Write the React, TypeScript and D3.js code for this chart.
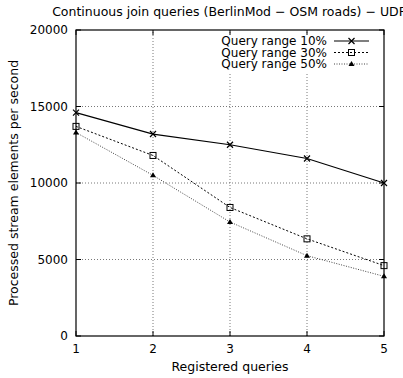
import React from "react";
import * as d3 from "d3";

const queries = [1, 2, 3, 4, 5];
const range10 = [14600, 13200, 12500, 11600, 10000];
const range30 = [13700, 11800, 8400, 6350, 4600];
const range50 = [13300, 10500, 7450, 5250, 3900];
const yTicks = [0, 5000, 10000, 15000, 20000];
const seriesNames = ["Query range 10%", "Query range 30%", "Query range 50%"];

const W = 403, H = 378;
const L = 76, R = 384, T = 30, B = 336;

export default function App() {
  const x = d3.scaleLinear().domain([1, 5]).range([L, R]);
  const y = d3.scaleLinear().domain([0, 20000]).range([B, T]);
  const line = d3.line<number>().x((_, i) => x(queries[i])).y(d => y(d));
  const font = "DejaVu Sans, Verdana, sans-serif";

  const series = [
    { data: range10, dash: undefined as string | undefined, stroke: "#000", sw: 1.2, marker: "x" },
    { data: range30, dash: "2,2", stroke: "#000", sw: 1, marker: "sq" },
    { data: range50, dash: "1,1.5", stroke: "#444", sw: 1, marker: "tri" },
  ];

  const marker = (m: string, cx: number, cy: number, key: any) => {
    if (m === "x") {
      const s = 3;
      return (
        <path key={key} d={`M${cx - s},${cy - s}L${cx + s},${cy + s}M${cx - s},${cy + s}L${cx + s},${cy - s}`} stroke="#000" strokeWidth={1.2} fill="none" />
      );
    }
    if (m === "sq") {
      return <rect key={key} x={cx - 3} y={cy - 3} width={6} height={6} fill="none" stroke="#000" strokeWidth={1} />;
    }
    return <path key={key} d={`M${cx},${cy - 3}L${cx + 3},${cy + 2}L${cx - 3},${cy + 2}Z`} fill="#000" />;
  };

  const legX1 = 334, legX2 = 369, legTextX = 327;
  const legY = [41, 52.5, 64];

  return (
    <svg width={W} height={H} style={{ position: "absolute", left: 0, top: 0, background: "#fff" }} fontFamily={font}>
      <rect x={0} y={0} width={W} height={H} fill="#fff" />
      {/* grid */}
      {[2, 3, 4].map(q => (
        <line key={"gx" + q} x1={x(q)} x2={x(q)} y1={B} y2={T} stroke="#555" strokeWidth={0.8} strokeDasharray="1,2" />
      ))}
      {[5000, 10000, 15000].map(v => (
        <line key={"gy" + v} x1={L} x2={R} y1={y(v)} y2={y(v)} stroke="#555" strokeWidth={0.8} strokeDasharray="1,2" />
      ))}
      {/* legend background */}
      <rect x={212} y={33} width={164} height={39} fill="#fff" />
      {/* ticks */}
      {queries.map(q => (
        <g key={"tx" + q}>
          <line x1={x(q)} x2={x(q)} y1={B} y2={B - 5} stroke="#000" />
          <line x1={x(q)} x2={x(q)} y1={T} y2={T + 5} stroke="#000" />
          <text x={x(q)} y={353} textAnchor="middle" fontSize={12}>{q}</text>
        </g>
      ))}
      {yTicks.map(v => (
        <g key={"ty" + v}>
          <line x1={L} x2={L + 5} y1={y(v)} y2={y(v)} stroke="#000" />
          <line x1={R} x2={R - 5} y1={y(v)} y2={y(v)} stroke="#000" />
          <text x={68} y={y(v) + 4} textAnchor="end" fontSize={12}>{v}</text>
        </g>
      ))}
      {/* series */}
      {series.map((s, i) => (
        <g key={"s" + i}>
          <path d={line(s.data) || ""} fill="none" stroke={s.stroke} strokeWidth={s.sw} strokeDasharray={s.dash} />
          {s.data.map((v, j) => marker(s.marker, x(queries[j]), y(v), j))}
        </g>
      ))}
      {/* frame */}
      <rect x={L} y={T} width={R - L} height={B - T} fill="none" stroke="#000" strokeWidth={1.2} />
      {/* legend */}
      {series.map((s, i) => (
        <g key={"l" + i}>
          <text x={legTextX} y={legY[i] + 4} textAnchor="end" fontSize={12}>{seriesNames[i]}</text>
          <line x1={legX1} x2={legX2} y1={legY[i]} y2={legY[i]} stroke={s.stroke} strokeWidth={s.sw} strokeDasharray={s.dash} />
          {marker(s.marker, (legX1 + legX2) / 2, legY[i], "m")}
        </g>
      ))}
      {/* titles */}
      <text x={229} y={16} textAnchor="middle" fontSize={12.5}>Continuous join queries (BerlinMod − OSM roads) − UDF</text>
      <text x={230} y={371} textAnchor="middle" fontSize={12.5}>Registered queries</text>
      <text transform={`translate(18,${(T + B) / 2}) rotate(-90)`} textAnchor="middle" fontSize={12.5}>Processed stream elements per second</text>
    </svg>
  );
}
